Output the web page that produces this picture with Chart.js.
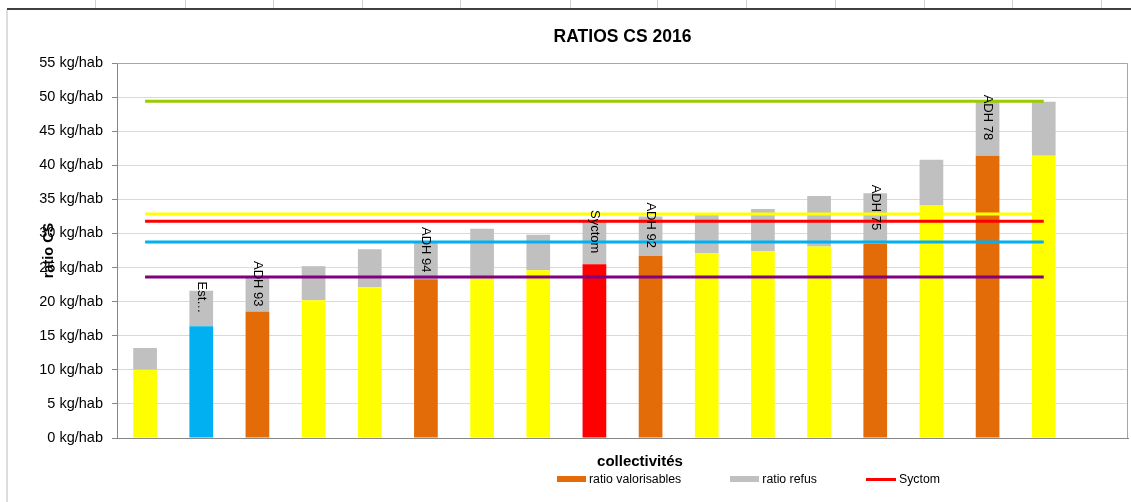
<!DOCTYPE html>
<html><head><meta charset="utf-8">
<script src="https://cdn.jsdelivr.net/npm/chart.js@4.4.1/dist/chart.umd.min.js"></script>
<style>
html,body{margin:0;padding:0;background:#fff;}
body{width:1131px;height:502px;overflow:hidden;position:relative;font-family:"Liberation Sans",Arial,sans-serif;}
.vcell{position:absolute;top:0;height:8px;width:1px;background:#d0d0d0;}
#topline{position:absolute;left:7px;top:8px;width:1124px;height:2px;background:#404040;}
#leftline{position:absolute;left:6px;top:10px;width:2px;height:492px;background:#dcdcdc;}
#c{position:absolute;left:0;top:0;}
#xtitle{position:absolute;top:453px;left:540px;width:200px;text-align:center;font-weight:bold;font-size:15px;line-height:15px;color:#000;}
#legend{position:absolute;left:557px;top:472px;display:flex;align-items:center;font-size:12.3px;line-height:14px;color:#000;white-space:nowrap;}
.item{display:flex;align-items:center;margin-right:49px;}
.sw{width:29px;margin-right:3px;}
</style></head>
<body>
<div id="cells"></div>
<div id="topline"></div>
<div id="leftline"></div>
<canvas id="c" width="1131" height="502"></canvas>
<div id="xtitle">collectivités</div>
<div id="legend"></div>
<script>
// ---- data ----
const categories = ["", "Est…", "ADH 93", "", "", "ADH 94", "", "", "Syctom", "ADH 92", "", "", "", "ADH 75", "", "ADH 78", "", ""];
const valorisables = [10.0, 16.4, 18.5, 20.2, 22.1, 23.3, 23.4, 24.6, 25.5, 26.7, 27.1, 27.4, 28.1, 28.5, 34.1, 41.4, 41.4];
const refus = [3.2, 5.2, 5.0, 5.0, 5.6, 5.4, 7.3, 5.2, 6.3, 5.8, 5.9, 6.2, 7.4, 7.4, 6.7, 8.0, 7.9];
const lineGreen  = [49.4, 49.4, 49.4, 49.4, 49.4, 49.4, 49.4, 49.4, 49.4, 49.4, 49.4, 49.4, 49.4, 49.4, 49.4, 49.4, 49.4];
const lineYellow = [32.85, 32.85, 32.85, 32.85, 32.85, 32.85, 32.85, 32.85, 32.85, 32.85, 32.85, 32.85, 32.85, 32.85, 32.85, 32.85, 32.85];
const lineSyctom = [31.8, 31.8, 31.8, 31.8, 31.8, 31.8, 31.8, 31.8, 31.8, 31.8, 31.8, 31.8, 31.8, 31.8, 31.8, 31.8, 31.8];
const lineBlue   = [28.75, 28.75, 28.75, 28.75, 28.75, 28.75, 28.75, 28.75, 28.75, 28.75, 28.75, 28.75, 28.75, 28.75, 28.75, 28.75, 28.75];
const linePurple = [23.6, 23.6, 23.6, 23.6, 23.6, 23.6, 23.6, 23.6, 23.6, 23.6, 23.6, 23.6, 23.6, 23.6, 23.6, 23.6, 23.6];
const yTickSuffix = " kg/hab";

// ---- styles ----
const Y = "#ffff00", B = "#00b0f0", O = "#e36c09", R = "#ff0000";
const barColors = [Y, B, O, Y, Y, O, Y, Y, R, O, Y, Y, Y, O, Y, O, Y];
const FONT = '"Liberation Sans", Arial, sans-serif';

// spreadsheet cell lines above the chart
[95,185,273,362,460,570,657,746,835,924,1012,1101].forEach(x=>{
  const d=document.createElement('div'); d.className='vcell'; d.style.left=x+'px';
  document.getElementById('cells').appendChild(d);
});

const frame = {
  id:'frame',
  beforeDatasetsDraw(chart){
    const {ctx, chartArea:a} = chart;
    ctx.save(); ctx.strokeStyle='#a6a6a6'; ctx.lineWidth=1;
    ctx.beginPath();
    ctx.moveTo(a.left, a.top+0.5); ctx.lineTo(a.right-0.5, a.top+0.5); ctx.lineTo(a.right-0.5, a.bottom);
    ctx.stroke(); ctx.restore();
  }
};
const barLabels = {
  id:'barLabels',
  afterDatasetsDraw(chart){
    const meta = chart.getDatasetMeta(1);
    const ctx = chart.ctx;
    ctx.save();
    ctx.font = '13px ' + FONT; ctx.fillStyle = '#000';
    ctx.textAlign = 'center'; ctx.textBaseline = 'middle';
    meta.data.forEach((el,i)=>{
      const t = categories[i];
      if(!t) return;
      const cy = (el.y + el.base)/2 - 11;
      ctx.save(); ctx.translate(el.x, cy); ctx.rotate(Math.PI/2); ctx.fillText(t,0,0); ctx.restore();
    });
    ctx.restore();
  }
};

function lineDs(label, data, color, stack, legend){
  return {type:'line', label, data, borderColor:color, backgroundColor:color, borderWidth:3,
    pointRadius:0, tension:0, fill:false, stack, order:0, showInLegend:legend};
}

const chart = new Chart(document.getElementById('c'), {
  data:{
    labels: categories,
    datasets:[
      {type:'bar', label:'ratio valorisables', data:valorisables, backgroundColor:barColors, legendColor:O,
        barPercentage:0.422, categoryPercentage:1, stack:'bars', order:1, showInLegend:true},
      {type:'bar', label:'ratio refus', data:refus, backgroundColor:'#c0c0c0', legendColor:'#c0c0c0',
        barPercentage:0.422, categoryPercentage:1, stack:'bars', order:1, showInLegend:true},
      lineDs('Syctom', lineSyctom, R, 'l1', true),
      lineDs('ligne verte', lineGreen, '#99cc00', 'l2', false),
      lineDs('ligne jaune', lineYellow, Y, 'l3', false),
      lineDs('ligne bleue', lineBlue, B, 'l4', false),
      lineDs('ligne violette', linePurple, '#800080', 'l5', false)
    ]
  },
  options:{
    responsive:false, animation:false, devicePixelRatio:1,
    layout:{padding:{top:15,right:3,left:0,bottom:54}},
    plugins:{
      legend:{display:false}, tooltip:{enabled:false},
      title:{display:true, fullSize:false, text:'RATIOS CS 2016', color:'#000',
        font:{family:FONT, size:17.5, weight:'bold'}, padding:{top:12,bottom:15}}
    },
    scales:{
      x:{stacked:true, grid:{display:false}, border:{display:true,color:'#868686',width:1},
        ticks:{display:false}, afterFit(s){s.height=10;}},
      y:{stacked:true, min:0, max:55,
        ticks:{stepSize:5, color:'#000', font:{family:FONT, size:14.5}, padding:9,
          callback:v=>v+yTickSuffix},
        grid:{color:'#d9d9d9', tickColor:'#868686', tickLength:5},
        border:{color:'#868686', width:1},
        title:{display:true, text:'ratio CS', color:'#000', font:{family:FONT, size:14.5, weight:'bold'},
          padding:{top:40,bottom:0}},
        afterFit(s){s.width=117;}}
    }
  },
  plugins:[frame, barLabels]
});

// legend from datasets
const lg = document.getElementById('legend');
chart.data.datasets.filter(d=>d.showInLegend).forEach(d=>{
  const it=document.createElement('div'); it.className='item';
  const sw=document.createElement('div'); sw.className='sw';
  const isLine = d.type==='line';
  sw.style.height = isLine ? '3px' : '6px';
  sw.style.background = isLine ? d.borderColor : d.legendColor;
  if(isLine) sw.style.width='30px';
  const tx=document.createElement('span'); tx.textContent=d.label;
  it.appendChild(sw); it.appendChild(tx); lg.appendChild(it);
});
</script>
</body></html>
